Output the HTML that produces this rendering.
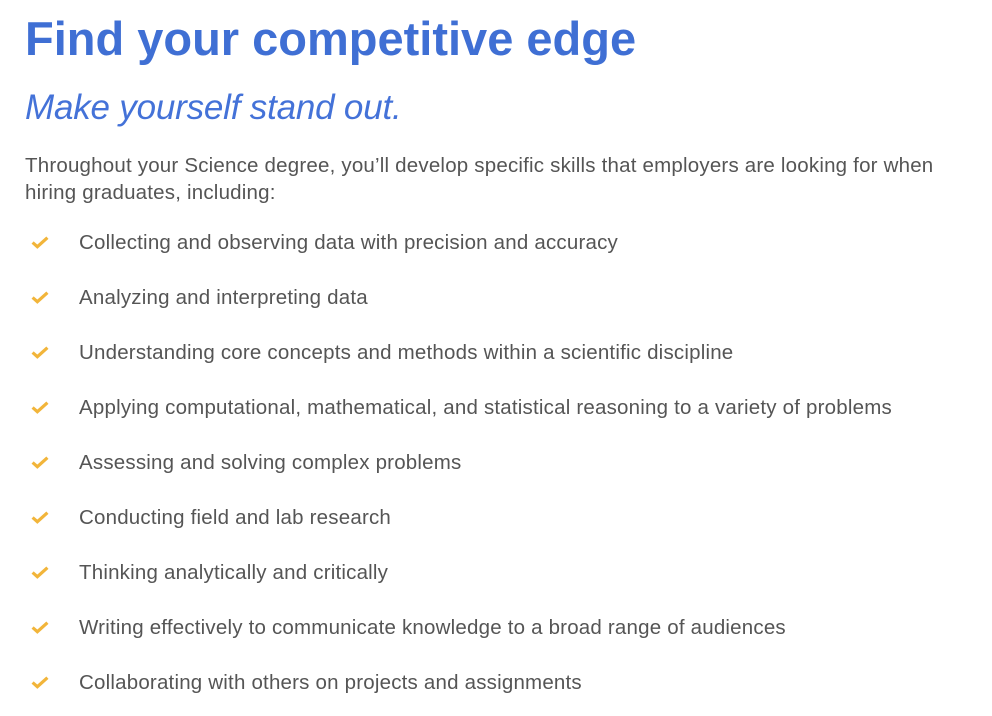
<!DOCTYPE html>
<html><head><meta charset="utf-8"><style>
html,body{margin:0;padding:0;background:#fff;width:992px;height:716px;overflow:hidden}
body{font-family:"Liberation Sans",sans-serif;position:relative}
h1{position:absolute;left:25px;top:11px;margin:0;font-size:47px;font-weight:bold;color:#3f6fd4;letter-spacing:0;white-space:nowrap}
h2{position:absolute;left:25px;top:88px;margin:0;font-size:35px;font-weight:normal;font-style:italic;color:#4472d8;white-space:nowrap;letter-spacing:-0.2px}
p{position:absolute;left:25px;top:152px;margin:0;font-size:20.5px;letter-spacing:0.2px;line-height:27px;color:#555;width:925px}
ul{position:absolute;left:0;top:231px;margin:0;padding:0;list-style:none}
li{position:relative;height:55px;font-size:20.5px;letter-spacing:0.2px;color:#555;white-space:nowrap}
li span.t{position:absolute;left:79px;top:-1px;line-height:26px}
li .c{position:absolute;left:31px;top:5px;width:18px;height:13px}
</style></head><body>
<h1>Find your competitive edge</h1>
<h2>Make yourself stand out.</h2>
<p>Throughout your Science degree, you’ll develop specific skills that employers are looking for when hiring graduates, including:</p>
<ul>
<li><svg class="c" viewBox="0 0 17 12"><path d="M1.5 6 L6 10 L15.5 1.5" fill="none" stroke="#f2b53a" stroke-width="3"/></svg><span class="t">Collecting and observing data with precision and accuracy</span></li>
<li><svg class="c" viewBox="0 0 17 12"><path d="M1.5 6 L6 10 L15.5 1.5" fill="none" stroke="#f2b53a" stroke-width="3"/></svg><span class="t">Analyzing and interpreting data</span></li>
<li><svg class="c" viewBox="0 0 17 12"><path d="M1.5 6 L6 10 L15.5 1.5" fill="none" stroke="#f2b53a" stroke-width="3"/></svg><span class="t">Understanding core concepts and methods within a scientific discipline</span></li>
<li><svg class="c" viewBox="0 0 17 12"><path d="M1.5 6 L6 10 L15.5 1.5" fill="none" stroke="#f2b53a" stroke-width="3"/></svg><span class="t">Applying computational, mathematical, and statistical reasoning to a variety of problems</span></li>
<li><svg class="c" viewBox="0 0 17 12"><path d="M1.5 6 L6 10 L15.5 1.5" fill="none" stroke="#f2b53a" stroke-width="3"/></svg><span class="t">Assessing and solving complex problems</span></li>
<li><svg class="c" viewBox="0 0 17 12"><path d="M1.5 6 L6 10 L15.5 1.5" fill="none" stroke="#f2b53a" stroke-width="3"/></svg><span class="t">Conducting field and lab research</span></li>
<li><svg class="c" viewBox="0 0 17 12"><path d="M1.5 6 L6 10 L15.5 1.5" fill="none" stroke="#f2b53a" stroke-width="3"/></svg><span class="t">Thinking analytically and critically</span></li>
<li><svg class="c" viewBox="0 0 17 12"><path d="M1.5 6 L6 10 L15.5 1.5" fill="none" stroke="#f2b53a" stroke-width="3"/></svg><span class="t">Writing effectively to communicate knowledge to a broad range of audiences</span></li>
<li><svg class="c" viewBox="0 0 17 12"><path d="M1.5 6 L6 10 L15.5 1.5" fill="none" stroke="#f2b53a" stroke-width="3"/></svg><span class="t">Collaborating with others on projects and assignments</span></li>
</ul>
</body></html>
